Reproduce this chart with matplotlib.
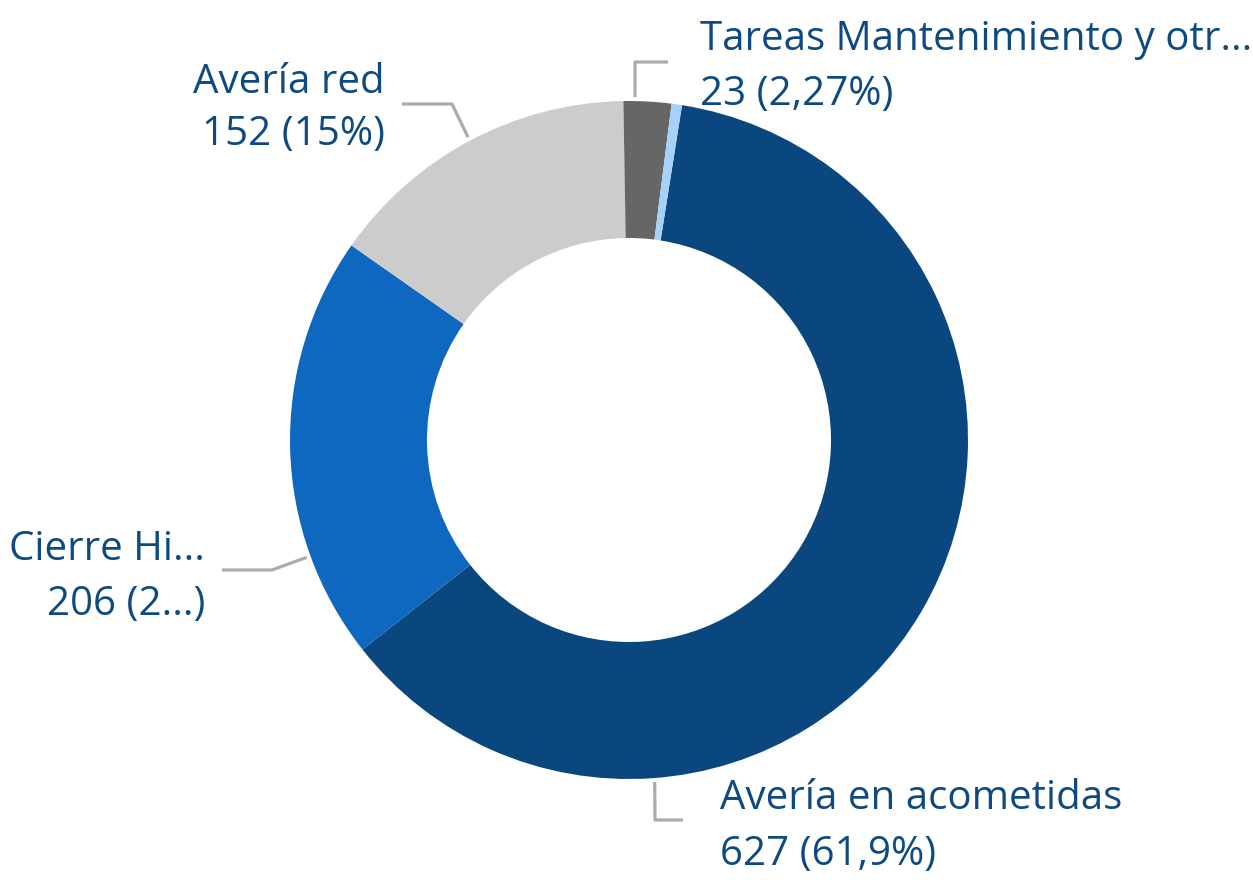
import numpy as np
import matplotlib
matplotlib.use("Agg")
import matplotlib.pyplot as plt

plt.rcParams['font.family'] = ['Open Sans', 'DejaVu Sans']

# datos del grafico
categorias = ['Avería en acometidas', 'Cierre Hi...', 'Avería red',
              'Tareas Mantenimiento y otr...', 'Otros']
valores = [627, 206, 152, 23, 5]
etiquetas_valor = ['627 (61,9%)', '206 (2...)', '152 (15%)', '23 (2,27%)', None]
colores = ['#0B477F', '#0F68C0', '#CCCCCC', '#666666', '#A6D1FB']

W, H = 1253, 884
cx, cy = 629, 440          # centro en pixeles (y hacia abajo)
r_ext, r_int = 339, 202
color_texto = '#0E4A82'
color_linea = '#ABABAB'


def py(y):
    # pasar y de pixel (hacia abajo) a datos (hacia arriba)
    return H - y


fig = plt.figure(figsize=(W / 100, H / 100), dpi=100)
ax = fig.add_axes([0, 0, 1, 1])

ax.pie(valores, colors=colores, startangle=90 - 9, counterclock=False,
       radius=r_ext, center=(cx, py(cy)),
       wedgeprops=dict(width=r_ext - r_int, edgecolor='none'))

ax.set_xlim(0, W)
ax.set_ylim(0, H)
ax.set_aspect('equal')
ax.axis('off')

# etiquetas: angulo del ancla (grados desde arriba, horario), codo, fin, texto
etiquetas = [
    # indice, angulo, codo, fin, alineacion, x texto, lineas base
    (3, 1.0, (635, 62), (668, 62), 'left', 700, (50, 105)),
    (2, 332.0, (452, 104), (402, 104), 'right', 385, (93, 145)),
    (1, 250.0, (272, 570), (222, 570), 'right', 205, (560, 615)),
    (0, 175.7, (655, 820), (683, 820), 'left', 720, (809, 865)),
]

for i, ang, codo, fin, ha, xt, bases in etiquetas:
    a = np.deg2rad(ang)
    x0 = cx + (r_ext + 4) * np.sin(a)
    y0 = cy - (r_ext + 4) * np.cos(a)
    xs = [x0, codo[0], fin[0]]
    ys = [py(y0), py(codo[1]), py(fin[1])]
    ax.plot(xs, ys, color=color_linea, lw=2.3, solid_capstyle='butt')
    ax.text(xt, py(bases[0]), categorias[i], ha=ha, va='baseline',
            fontsize=29, color=color_texto)
    ax.text(xt, py(bases[1]), etiquetas_valor[i], ha=ha, va='baseline',
            fontsize=29, color=color_texto)

fig.savefig('out.png', dpi=100)
